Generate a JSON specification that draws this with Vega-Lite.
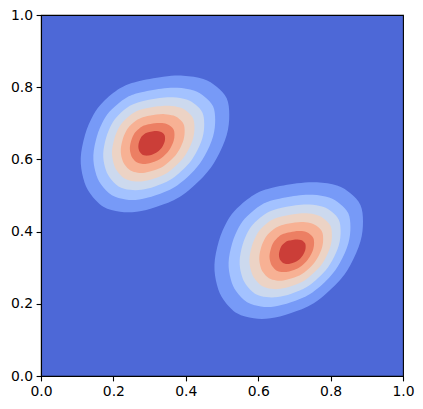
{
  "$schema": "https://vega.github.io/schema/vega-lite/v6.json",
  "width": 362,
  "height": 361,
  "autosize": "none",
  "padding": {"left": 41, "top": 15, "right": 20, "bottom": 33},
  "background": "white",
  "view": {"fill": "#4d68d7", "stroke": "black", "strokeWidth": 1.1},
  "config": {
    "axis": {
      "grid": false, "title": null, "domainColor": "black", "domainWidth": 1.1,
      "tickColor": "black", "tickWidth": 1.1, "tickSize": 4.9, "labelPadding": 3.5,
      "labelFont": "DejaVu Sans", "labelFontSize": 13.9, "labelColor": "black",
      "labelFlush": false, "labelOverlap": false
    }
  },
  "data": {"values": [
    {"b":"A","lv":1,"i":1,"x":0.3931,"y":0.8319},{"b":"A","lv":1,"i":2,"x":0.3378,"y":0.8291},{"b":"A","lv":1,"i":3,"x":0.2643,"y":0.8152},{"b":"A","lv":1,"i":4,"x":0.2182,"y":0.7970},{"b":"A","lv":1,"i":5,"x":0.1721,"y":0.7598},{"b":"A","lv":1,"i":6,"x":0.1445,"y":0.7230},{"b":"A","lv":1,"i":7,"x":0.1215,"y":0.6676},{"b":"A","lv":1,"i":8,"x":0.1097,"y":0.6031},{"b":"A","lv":1,"i":9,"x":0.1168,"y":0.5477},{"b":"A","lv":1,"i":10,"x":0.1353,"y":0.5061},{"b":"A","lv":1,"i":11,"x":0.1721,"y":0.4690},{"b":"A","lv":1,"i":12,"x":0.2182,"y":0.4551},{"b":"A","lv":1,"i":13,"x":0.2643,"y":0.4551},{"b":"A","lv":1,"i":14,"x":0.3196,"y":0.4690},{"b":"A","lv":1,"i":15,"x":0.3840,"y":0.4967},{"b":"A","lv":1,"i":16,"x":0.4483,"y":0.5521},{"b":"A","lv":1,"i":17,"x":0.4853,"y":0.6031},{"b":"A","lv":1,"i":18,"x":0.5130,"y":0.6676},{"b":"A","lv":1,"i":19,"x":0.5201,"y":0.7230},{"b":"A","lv":1,"i":20,"x":0.5130,"y":0.7693},{"b":"A","lv":1,"i":21,"x":0.4853,"y":0.8014},{"b":"A","lv":1,"i":22,"x":0.4483,"y":0.8227},
    {"b":"A","lv":2,"i":1,"x":0.3770,"y":0.7982},{"b":"A","lv":2,"i":2,"x":0.3317,"y":0.7959},{"b":"A","lv":2,"i":3,"x":0.2714,"y":0.7845},{"b":"A","lv":2,"i":4,"x":0.2336,"y":0.7696},{"b":"A","lv":2,"i":5,"x":0.1958,"y":0.7391},{"b":"A","lv":2,"i":6,"x":0.1732,"y":0.7089},{"b":"A","lv":2,"i":7,"x":0.1543,"y":0.6635},{"b":"A","lv":2,"i":8,"x":0.1446,"y":0.6106},{"b":"A","lv":2,"i":9,"x":0.1505,"y":0.5651},{"b":"A","lv":2,"i":10,"x":0.1656,"y":0.5310},{"b":"A","lv":2,"i":11,"x":0.1958,"y":0.5006},{"b":"A","lv":2,"i":12,"x":0.2336,"y":0.4892},{"b":"A","lv":2,"i":13,"x":0.2714,"y":0.4892},{"b":"A","lv":2,"i":14,"x":0.3168,"y":0.5006},{"b":"A","lv":2,"i":15,"x":0.3696,"y":0.5233},{"b":"A","lv":2,"i":16,"x":0.4223,"y":0.5688},{"b":"A","lv":2,"i":17,"x":0.4526,"y":0.6106},{"b":"A","lv":2,"i":18,"x":0.4753,"y":0.6635},{"b":"A","lv":2,"i":19,"x":0.4812,"y":0.7089},{"b":"A","lv":2,"i":20,"x":0.4753,"y":0.7469},{"b":"A","lv":2,"i":21,"x":0.4526,"y":0.7732},{"b":"A","lv":2,"i":22,"x":0.4223,"y":0.7906},
    {"b":"A","lv":3,"i":1,"x":0.3646,"y":0.7720},{"b":"A","lv":3,"i":2,"x":0.3270,"y":0.7701},{"b":"A","lv":3,"i":3,"x":0.2770,"y":0.7607},{"b":"A","lv":3,"i":4,"x":0.2456,"y":0.7483},{"b":"A","lv":3,"i":5,"x":0.2143,"y":0.7230},{"b":"A","lv":3,"i":6,"x":0.1955,"y":0.6980},{"b":"A","lv":3,"i":7,"x":0.1799,"y":0.6603},{"b":"A","lv":3,"i":8,"x":0.1719,"y":0.6164},{"b":"A","lv":3,"i":9,"x":0.1767,"y":0.5788},{"b":"A","lv":3,"i":10,"x":0.1893,"y":0.5505},{"b":"A","lv":3,"i":11,"x":0.2143,"y":0.5252},{"b":"A","lv":3,"i":12,"x":0.2456,"y":0.5158},{"b":"A","lv":3,"i":13,"x":0.2770,"y":0.5158},{"b":"A","lv":3,"i":14,"x":0.3146,"y":0.5252},{"b":"A","lv":3,"i":15,"x":0.3584,"y":0.5441},{"b":"A","lv":3,"i":16,"x":0.4021,"y":0.5817},{"b":"A","lv":3,"i":17,"x":0.4273,"y":0.6164},{"b":"A","lv":3,"i":18,"x":0.4461,"y":0.6603},{"b":"A","lv":3,"i":19,"x":0.4509,"y":0.6980},{"b":"A","lv":3,"i":20,"x":0.4461,"y":0.7294},{"b":"A","lv":3,"i":21,"x":0.4273,"y":0.7513},{"b":"A","lv":3,"i":22,"x":0.4021,"y":0.7658},
    {"b":"A","lv":4,"i":1,"x":0.3534,"y":0.7487},{"b":"A","lv":4,"i":2,"x":0.3227,"y":0.7471},{"b":"A","lv":4,"i":3,"x":0.2819,"y":0.7394},{"b":"A","lv":4,"i":4,"x":0.2563,"y":0.7293},{"b":"A","lv":4,"i":5,"x":0.2307,"y":0.7086},{"b":"A","lv":4,"i":6,"x":0.2154,"y":0.6882},{"b":"A","lv":4,"i":7,"x":0.2027,"y":0.6575},{"b":"A","lv":4,"i":8,"x":0.1961,"y":0.6217},{"b":"A","lv":4,"i":9,"x":0.2001,"y":0.5909},{"b":"A","lv":4,"i":10,"x":0.2103,"y":0.5678},{"b":"A","lv":4,"i":11,"x":0.2307,"y":0.5473},{"b":"A","lv":4,"i":12,"x":0.2563,"y":0.5395},{"b":"A","lv":4,"i":13,"x":0.2819,"y":0.5395},{"b":"A","lv":4,"i":14,"x":0.3126,"y":0.5473},{"b":"A","lv":4,"i":15,"x":0.3484,"y":0.5626},{"b":"A","lv":4,"i":16,"x":0.3840,"y":0.5934},{"b":"A","lv":4,"i":17,"x":0.4046,"y":0.6217},{"b":"A","lv":4,"i":18,"x":0.4199,"y":0.6575},{"b":"A","lv":4,"i":19,"x":0.4239,"y":0.6882},{"b":"A","lv":4,"i":20,"x":0.4199,"y":0.7139},{"b":"A","lv":4,"i":21,"x":0.4046,"y":0.7317},{"b":"A","lv":4,"i":22,"x":0.3840,"y":0.7436},
    {"b":"A","lv":5,"i":1,"x":0.3422,"y":0.7253},{"b":"A","lv":5,"i":2,"x":0.3184,"y":0.7241},{"b":"A","lv":5,"i":3,"x":0.2868,"y":0.7181},{"b":"A","lv":5,"i":4,"x":0.2670,"y":0.7103},{"b":"A","lv":5,"i":5,"x":0.2472,"y":0.6943},{"b":"A","lv":5,"i":6,"x":0.2353,"y":0.6785},{"b":"A","lv":5,"i":7,"x":0.2254,"y":0.6547},{"b":"A","lv":5,"i":8,"x":0.2204,"y":0.6269},{"b":"A","lv":5,"i":9,"x":0.2234,"y":0.6031},{"b":"A","lv":5,"i":10,"x":0.2314,"y":0.5852},{"b":"A","lv":5,"i":11,"x":0.2472,"y":0.5693},{"b":"A","lv":5,"i":12,"x":0.2670,"y":0.5633},{"b":"A","lv":5,"i":13,"x":0.2868,"y":0.5633},{"b":"A","lv":5,"i":14,"x":0.3106,"y":0.5693},{"b":"A","lv":5,"i":15,"x":0.3383,"y":0.5812},{"b":"A","lv":5,"i":16,"x":0.3660,"y":0.6050},{"b":"A","lv":5,"i":17,"x":0.3819,"y":0.6269},{"b":"A","lv":5,"i":18,"x":0.3938,"y":0.6547},{"b":"A","lv":5,"i":19,"x":0.3968,"y":0.6785},{"b":"A","lv":5,"i":20,"x":0.3938,"y":0.6984},{"b":"A","lv":5,"i":21,"x":0.3819,"y":0.7122},{"b":"A","lv":5,"i":22,"x":0.3660,"y":0.7214},
    {"b":"A","lv":6,"i":1,"x":0.3306,"y":0.7009},{"b":"A","lv":6,"i":2,"x":0.3140,"y":0.7001},{"b":"A","lv":6,"i":3,"x":0.2919,"y":0.6959},{"b":"A","lv":6,"i":4,"x":0.2781,"y":0.6905},{"b":"A","lv":6,"i":5,"x":0.2643,"y":0.6793},{"b":"A","lv":6,"i":6,"x":0.2560,"y":0.6683},{"b":"A","lv":6,"i":7,"x":0.2491,"y":0.6516},{"b":"A","lv":6,"i":8,"x":0.2455,"y":0.6323},{"b":"A","lv":6,"i":9,"x":0.2477,"y":0.6157},{"b":"A","lv":6,"i":10,"x":0.2532,"y":0.6032},{"b":"A","lv":6,"i":11,"x":0.2643,"y":0.5920},{"b":"A","lv":6,"i":12,"x":0.2781,"y":0.5879},{"b":"A","lv":6,"i":13,"x":0.2919,"y":0.5879},{"b":"A","lv":6,"i":14,"x":0.3085,"y":0.5920},{"b":"A","lv":6,"i":15,"x":0.3278,"y":0.6004},{"b":"A","lv":6,"i":16,"x":0.3471,"y":0.6170},{"b":"A","lv":6,"i":17,"x":0.3582,"y":0.6323},{"b":"A","lv":6,"i":18,"x":0.3665,"y":0.6516},{"b":"A","lv":6,"i":19,"x":0.3687,"y":0.6683},{"b":"A","lv":6,"i":20,"x":0.3665,"y":0.6821},{"b":"A","lv":6,"i":21,"x":0.3582,"y":0.6918},{"b":"A","lv":6,"i":22,"x":0.3471,"y":0.6982},
    {"b":"A","lv":7,"i":1,"x":0.3199,"y":0.6785},{"b":"A","lv":7,"i":2,"x":0.3099,"y":0.6780},{"b":"A","lv":7,"i":3,"x":0.2967,"y":0.6755},{"b":"A","lv":7,"i":4,"x":0.2884,"y":0.6722},{"b":"A","lv":7,"i":5,"x":0.2801,"y":0.6655},{"b":"A","lv":7,"i":6,"x":0.2751,"y":0.6589},{"b":"A","lv":7,"i":7,"x":0.2710,"y":0.6489},{"b":"A","lv":7,"i":8,"x":0.2689,"y":0.6373},{"b":"A","lv":7,"i":9,"x":0.2701,"y":0.6274},{"b":"A","lv":7,"i":10,"x":0.2735,"y":0.6199},{"b":"A","lv":7,"i":11,"x":0.2801,"y":0.6132},{"b":"A","lv":7,"i":12,"x":0.2884,"y":0.6107},{"b":"A","lv":7,"i":13,"x":0.2967,"y":0.6107},{"b":"A","lv":7,"i":14,"x":0.3066,"y":0.6132},{"b":"A","lv":7,"i":15,"x":0.3182,"y":0.6182},{"b":"A","lv":7,"i":16,"x":0.3298,"y":0.6281},{"b":"A","lv":7,"i":17,"x":0.3365,"y":0.6373},{"b":"A","lv":7,"i":18,"x":0.3415,"y":0.6489},{"b":"A","lv":7,"i":19,"x":0.3427,"y":0.6589},{"b":"A","lv":7,"i":20,"x":0.3415,"y":0.6672},{"b":"A","lv":7,"i":21,"x":0.3365,"y":0.6730},{"b":"A","lv":7,"i":22,"x":0.3298,"y":0.6769},
    {"b":"B","lv":1,"i":1,"x":0.7625,"y":0.5366},{"b":"B","lv":1,"i":2,"x":0.7072,"y":0.5338},{"b":"B","lv":1,"i":3,"x":0.6337,"y":0.5199},{"b":"B","lv":1,"i":4,"x":0.5876,"y":0.5017},{"b":"B","lv":1,"i":5,"x":0.5415,"y":0.4645},{"b":"B","lv":1,"i":6,"x":0.5139,"y":0.4277},{"b":"B","lv":1,"i":7,"x":0.4909,"y":0.3723},{"b":"B","lv":1,"i":8,"x":0.4791,"y":0.3078},{"b":"B","lv":1,"i":9,"x":0.4862,"y":0.2524},{"b":"B","lv":1,"i":10,"x":0.5047,"y":0.2108},{"b":"B","lv":1,"i":11,"x":0.5415,"y":0.1737},{"b":"B","lv":1,"i":12,"x":0.5876,"y":0.1598},{"b":"B","lv":1,"i":13,"x":0.6337,"y":0.1598},{"b":"B","lv":1,"i":14,"x":0.6890,"y":0.1737},{"b":"B","lv":1,"i":15,"x":0.7534,"y":0.2014},{"b":"B","lv":1,"i":16,"x":0.8177,"y":0.2568},{"b":"B","lv":1,"i":17,"x":0.8547,"y":0.3078},{"b":"B","lv":1,"i":18,"x":0.8824,"y":0.3723},{"b":"B","lv":1,"i":19,"x":0.8895,"y":0.4277},{"b":"B","lv":1,"i":20,"x":0.8824,"y":0.4740},{"b":"B","lv":1,"i":21,"x":0.8547,"y":0.5061},{"b":"B","lv":1,"i":22,"x":0.8177,"y":0.5274},
    {"b":"B","lv":2,"i":1,"x":0.7506,"y":0.5018},{"b":"B","lv":2,"i":2,"x":0.7053,"y":0.4995},{"b":"B","lv":2,"i":3,"x":0.6450,"y":0.4881},{"b":"B","lv":2,"i":4,"x":0.6072,"y":0.4732},{"b":"B","lv":2,"i":5,"x":0.5694,"y":0.4427},{"b":"B","lv":2,"i":6,"x":0.5468,"y":0.4125},{"b":"B","lv":2,"i":7,"x":0.5279,"y":0.3671},{"b":"B","lv":2,"i":8,"x":0.5182,"y":0.3142},{"b":"B","lv":2,"i":9,"x":0.5241,"y":0.2687},{"b":"B","lv":2,"i":10,"x":0.5392,"y":0.2346},{"b":"B","lv":2,"i":11,"x":0.5694,"y":0.2042},{"b":"B","lv":2,"i":12,"x":0.6072,"y":0.1928},{"b":"B","lv":2,"i":13,"x":0.6450,"y":0.1928},{"b":"B","lv":2,"i":14,"x":0.6904,"y":0.2042},{"b":"B","lv":2,"i":15,"x":0.7432,"y":0.2269},{"b":"B","lv":2,"i":16,"x":0.7959,"y":0.2724},{"b":"B","lv":2,"i":17,"x":0.8262,"y":0.3142},{"b":"B","lv":2,"i":18,"x":0.8489,"y":0.3671},{"b":"B","lv":2,"i":19,"x":0.8548,"y":0.4125},{"b":"B","lv":2,"i":20,"x":0.8489,"y":0.4505},{"b":"B","lv":2,"i":21,"x":0.8262,"y":0.4768},{"b":"B","lv":2,"i":22,"x":0.7959,"y":0.4942},
    {"b":"B","lv":3,"i":1,"x":0.7414,"y":0.4748},{"b":"B","lv":3,"i":2,"x":0.7038,"y":0.4729},{"b":"B","lv":3,"i":3,"x":0.6538,"y":0.4635},{"b":"B","lv":3,"i":4,"x":0.6224,"y":0.4511},{"b":"B","lv":3,"i":5,"x":0.5911,"y":0.4258},{"b":"B","lv":3,"i":6,"x":0.5723,"y":0.4008},{"b":"B","lv":3,"i":7,"x":0.5567,"y":0.3631},{"b":"B","lv":3,"i":8,"x":0.5487,"y":0.3192},{"b":"B","lv":3,"i":9,"x":0.5535,"y":0.2816},{"b":"B","lv":3,"i":10,"x":0.5661,"y":0.2533},{"b":"B","lv":3,"i":11,"x":0.5911,"y":0.2280},{"b":"B","lv":3,"i":12,"x":0.6224,"y":0.2186},{"b":"B","lv":3,"i":13,"x":0.6538,"y":0.2186},{"b":"B","lv":3,"i":14,"x":0.6914,"y":0.2280},{"b":"B","lv":3,"i":15,"x":0.7352,"y":0.2469},{"b":"B","lv":3,"i":16,"x":0.7789,"y":0.2845},{"b":"B","lv":3,"i":17,"x":0.8041,"y":0.3192},{"b":"B","lv":3,"i":18,"x":0.8229,"y":0.3631},{"b":"B","lv":3,"i":19,"x":0.8277,"y":0.4008},{"b":"B","lv":3,"i":20,"x":0.8229,"y":0.4322},{"b":"B","lv":3,"i":21,"x":0.8041,"y":0.4541},{"b":"B","lv":3,"i":22,"x":0.7789,"y":0.4686},
    {"b":"B","lv":4,"i":1,"x":0.7331,"y":0.4507},{"b":"B","lv":4,"i":2,"x":0.7024,"y":0.4491},{"b":"B","lv":4,"i":3,"x":0.6616,"y":0.4414},{"b":"B","lv":4,"i":4,"x":0.6360,"y":0.4313},{"b":"B","lv":4,"i":5,"x":0.6104,"y":0.4106},{"b":"B","lv":4,"i":6,"x":0.5951,"y":0.3902},{"b":"B","lv":4,"i":7,"x":0.5824,"y":0.3595},{"b":"B","lv":4,"i":8,"x":0.5758,"y":0.3237},{"b":"B","lv":4,"i":9,"x":0.5798,"y":0.2929},{"b":"B","lv":4,"i":10,"x":0.5900,"y":0.2698},{"b":"B","lv":4,"i":11,"x":0.6104,"y":0.2493},{"b":"B","lv":4,"i":12,"x":0.6360,"y":0.2415},{"b":"B","lv":4,"i":13,"x":0.6616,"y":0.2415},{"b":"B","lv":4,"i":14,"x":0.6923,"y":0.2493},{"b":"B","lv":4,"i":15,"x":0.7281,"y":0.2646},{"b":"B","lv":4,"i":16,"x":0.7637,"y":0.2954},{"b":"B","lv":4,"i":17,"x":0.7843,"y":0.3237},{"b":"B","lv":4,"i":18,"x":0.7996,"y":0.3595},{"b":"B","lv":4,"i":19,"x":0.8036,"y":0.3902},{"b":"B","lv":4,"i":20,"x":0.7996,"y":0.4159},{"b":"B","lv":4,"i":21,"x":0.7843,"y":0.4337},{"b":"B","lv":4,"i":22,"x":0.7637,"y":0.4456},
    {"b":"B","lv":5,"i":1,"x":0.7248,"y":0.4265},{"b":"B","lv":5,"i":2,"x":0.7010,"y":0.4253},{"b":"B","lv":5,"i":3,"x":0.6694,"y":0.4193},{"b":"B","lv":5,"i":4,"x":0.6496,"y":0.4115},{"b":"B","lv":5,"i":5,"x":0.6298,"y":0.3955},{"b":"B","lv":5,"i":6,"x":0.6179,"y":0.3797},{"b":"B","lv":5,"i":7,"x":0.6080,"y":0.3559},{"b":"B","lv":5,"i":8,"x":0.6030,"y":0.3281},{"b":"B","lv":5,"i":9,"x":0.6060,"y":0.3043},{"b":"B","lv":5,"i":10,"x":0.6140,"y":0.2864},{"b":"B","lv":5,"i":11,"x":0.6298,"y":0.2705},{"b":"B","lv":5,"i":12,"x":0.6496,"y":0.2645},{"b":"B","lv":5,"i":13,"x":0.6694,"y":0.2645},{"b":"B","lv":5,"i":14,"x":0.6932,"y":0.2705},{"b":"B","lv":5,"i":15,"x":0.7209,"y":0.2824},{"b":"B","lv":5,"i":16,"x":0.7486,"y":0.3062},{"b":"B","lv":5,"i":17,"x":0.7645,"y":0.3281},{"b":"B","lv":5,"i":18,"x":0.7764,"y":0.3559},{"b":"B","lv":5,"i":19,"x":0.7794,"y":0.3797},{"b":"B","lv":5,"i":20,"x":0.7764,"y":0.3996},{"b":"B","lv":5,"i":21,"x":0.7645,"y":0.4134},{"b":"B","lv":5,"i":22,"x":0.7486,"y":0.4226},
    {"b":"B","lv":6,"i":1,"x":0.7163,"y":0.4014},{"b":"B","lv":6,"i":2,"x":0.6997,"y":0.4006},{"b":"B","lv":6,"i":3,"x":0.6776,"y":0.3964},{"b":"B","lv":6,"i":4,"x":0.6638,"y":0.3910},{"b":"B","lv":6,"i":5,"x":0.6500,"y":0.3798},{"b":"B","lv":6,"i":6,"x":0.6417,"y":0.3688},{"b":"B","lv":6,"i":7,"x":0.6348,"y":0.3521},{"b":"B","lv":6,"i":8,"x":0.6312,"y":0.3328},{"b":"B","lv":6,"i":9,"x":0.6334,"y":0.3162},{"b":"B","lv":6,"i":10,"x":0.6389,"y":0.3037},{"b":"B","lv":6,"i":11,"x":0.6500,"y":0.2925},{"b":"B","lv":6,"i":12,"x":0.6638,"y":0.2884},{"b":"B","lv":6,"i":13,"x":0.6776,"y":0.2884},{"b":"B","lv":6,"i":14,"x":0.6942,"y":0.2925},{"b":"B","lv":6,"i":15,"x":0.7135,"y":0.3009},{"b":"B","lv":6,"i":16,"x":0.7328,"y":0.3175},{"b":"B","lv":6,"i":17,"x":0.7439,"y":0.3328},{"b":"B","lv":6,"i":18,"x":0.7522,"y":0.3521},{"b":"B","lv":6,"i":19,"x":0.7544,"y":0.3688},{"b":"B","lv":6,"i":20,"x":0.7522,"y":0.3826},{"b":"B","lv":6,"i":21,"x":0.7439,"y":0.3923},{"b":"B","lv":6,"i":22,"x":0.7328,"y":0.3987},
    {"b":"B","lv":7,"i":1,"x":0.7083,"y":0.3782},{"b":"B","lv":7,"i":2,"x":0.6983,"y":0.3777},{"b":"B","lv":7,"i":3,"x":0.6851,"y":0.3752},{"b":"B","lv":7,"i":4,"x":0.6768,"y":0.3719},{"b":"B","lv":7,"i":5,"x":0.6685,"y":0.3652},{"b":"B","lv":7,"i":6,"x":0.6635,"y":0.3586},{"b":"B","lv":7,"i":7,"x":0.6594,"y":0.3486},{"b":"B","lv":7,"i":8,"x":0.6573,"y":0.3370},{"b":"B","lv":7,"i":9,"x":0.6585,"y":0.3271},{"b":"B","lv":7,"i":10,"x":0.6619,"y":0.3196},{"b":"B","lv":7,"i":11,"x":0.6685,"y":0.3129},{"b":"B","lv":7,"i":12,"x":0.6768,"y":0.3104},{"b":"B","lv":7,"i":13,"x":0.6851,"y":0.3104},{"b":"B","lv":7,"i":14,"x":0.6950,"y":0.3129},{"b":"B","lv":7,"i":15,"x":0.7066,"y":0.3179},{"b":"B","lv":7,"i":16,"x":0.7182,"y":0.3278},{"b":"B","lv":7,"i":17,"x":0.7249,"y":0.3370},{"b":"B","lv":7,"i":18,"x":0.7299,"y":0.3486},{"b":"B","lv":7,"i":19,"x":0.7311,"y":0.3586},{"b":"B","lv":7,"i":20,"x":0.7299,"y":0.3669},{"b":"B","lv":7,"i":21,"x":0.7249,"y":0.3727},{"b":"B","lv":7,"i":22,"x":0.7182,"y":0.3766}
  ]},
  "mark": {"type": "line", "filled": true, "interpolate": "cardinal-closed", "clip": true},
  "encoding": {
    "x": {"field": "x", "type": "quantitative", "scale": {"domain": [0, 1], "nice": false, "zero": false},
          "axis": {"values": [0, 0.2, 0.4, 0.6, 0.8, 1.0], "format": ".1f"}},
    "y": {"field": "y", "type": "quantitative", "scale": {"domain": [0, 1], "nice": false, "zero": false},
          "axis": {"values": [0, 0.2, 0.4, 0.6, 0.8, 1.0], "format": ".1f"}},
    "color": {"field": "lv", "type": "ordinal",
              "scale": {"domain": [1, 2, 3, 4, 5, 6, 7],
                        "range": ["#779af7", "#a3c2ff", "#ccd9ee", "#ecd3c5", "#f7b194", "#ec7f63", "#cb3e38"]},
              "legend": null},
    "detail": {"field": "b", "type": "nominal"},
    "order": {"field": "i", "type": "quantitative"}
  }
}
